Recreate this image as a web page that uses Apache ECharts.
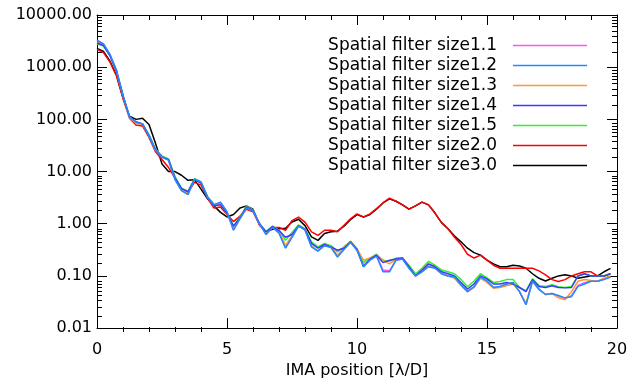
<!DOCTYPE html>
<html><head><meta charset="utf-8">
<script src="https://cdn.jsdelivr.net/npm/echarts@6/dist/echarts.min.js"></script>
<style>html,body{margin:0;padding:0;background:#fff}#c{width:640px;height:384px}</style>
</head><body><div id="c"></div>
<script>
// sample positions [lambda/D]
const xPos = [0,0.25,0.5,0.75, 1,1.25,1.5,1.75, 2,2.25,2.5,2.75, 3,3.25,3.5,3.75, 4,4.25,4.5,4.75,
  5,5.25,5.5,5.75, 6,6.25,6.5,6.75, 7,7.25,7.5,7.75, 8,8.25,8.5,8.75, 9,9.25,9.5,9.75,
  10,10.25,10.5,10.75, 11,11.25,11.5,11.75, 12,12.25,12.5,12.75, 13,13.25,13.5,13.75, 14,14.25,14.5,14.75,
  15,15.25,15.5,15.75, 16,16.25,16.5,16.75, 17,17.25,17.5,17.75, 18,18.25,18.5,18.75, 19,19.25,19.5,19.75];

const size11 = [3250,2780,1740,865, 288,111,87,81, 50,26,19,16.6, 7.1,4.35,3.7,7.15, 6.25,3.25,2.28,2.55,
  1.68,0.76,1.26,2.02, 1.76,1.0,0.63,0.86, 0.68,0.35,0.56,0.91, 0.77,0.365,0.3,0.385, 0.355,0.235,0.325,0.445,
  0.315,0.16,0.205,0.242, 0.13,0.125,0.2,0.212, 0.142,0.1,0.122,0.155, 0.142,0.11,0.1,0.094, 0.067,0.05,0.062,0.094,
  0.079,0.06,0.062,0.069, 0.074,0.05,0.028,0.08, 0.055,0.044,0.046,0.041, 0.037,0.042,0.066,0.074, 0.08,0.079,0.087,0.096];
const size12 = [3300,2800,1750,870, 290,112,88,82, 50,26,19,16.5, 7.0,4.3,3.6,7.2, 6.3,3.3,2.3,2.6,
  1.7,0.75,1.25,2.0, 1.75,1.0,0.62,0.85, 0.66,0.34,0.55,0.9, 0.76,0.36,0.3,0.38, 0.35,0.23,0.32,0.44,
  0.31,0.15,0.2,0.24, 0.12,0.12,0.2,0.21, 0.14,0.1,0.12,0.15, 0.14,0.11,0.1,0.095, 0.068,0.05,0.062,0.095,
  0.08,0.06,0.063,0.07, 0.075,0.05,0.028,0.08, 0.055,0.044,0.046,0.042, 0.038,0.04,0.063,0.07, 0.079,0.079,0.085,0.095];
const size13 = [3000,2650,1680,840, 280,108,85,80, 48,26,19,17, 7.4,4.5,3.9,7.1, 6.1,3.2,2.2,2.4,
  1.6,0.8,1.3,2.1, 1.8,1.0,0.66,0.9, 0.72,0.38,0.6,0.93, 0.8,0.38,0.3,0.4, 0.37,0.25,0.35,0.46,
  0.33,0.2,0.22,0.25, 0.2,0.17,0.21,0.22, 0.15,0.1,0.13,0.17, 0.15,0.11,0.1,0.09, 0.065,0.05,0.06,0.09,
  0.075,0.058,0.06,0.065, 0.07,0.05,0.03,0.078, 0.056,0.044,0.046,0.038, 0.035,0.05,0.079,0.085, 0.082,0.079,0.09,0.1];
const size14 = [2900,2600,1650,830, 280,112,90,82, 48,26,19,17, 7.6,4.7,4.1,7.0, 6.0,3.2,2.2,2.3,
  1.6,0.9,1.3,2.1, 1.8,1.0,0.7,0.88, 0.74,0.55,0.62,0.92, 0.78,0.42,0.34,0.4, 0.36,0.31,0.34,0.45,
  0.32,0.15,0.21,0.25, 0.18,0.2,0.21,0.22, 0.15,0.1,0.13,0.17, 0.15,0.12,0.11,0.1, 0.075,0.056,0.07,0.1,
  0.088,0.07,0.07,0.075, 0.07,0.06,0.05,0.085, 0.063,0.06,0.065,0.06, 0.059,0.06,0.1,0.11, 0.1,0.1,0.1,0.11];
const size15 = [2800,2550,1650,830, 280,110,88,82, 50,27,20,17.5, 8,4.8,4.2,7.3, 6.3,3.3,2.4,2.4,
  1.6,0.9,1.35,2.2, 1.85,1.0,0.7,0.9, 0.75,0.48,0.68,0.95, 0.8,0.45,0.36,0.42, 0.38,0.29,0.36,0.46,
  0.33,0.18,0.22,0.26, 0.2,0.19,0.22,0.22, 0.16,0.11,0.14,0.19, 0.16,0.13,0.12,0.11, 0.085,0.062,0.08,0.11,
  0.092,0.075,0.078,0.085, 0.085,0.06,0.052,0.088, 0.065,0.063,0.068,0.062, 0.06,0.063,0.1,0.11, 0.1,0.1,0.1,0.11];
const size20 = [2200,1900,1250,680, 250,105,78,75, 45,24,17,12, 7.5,4.5,4.0,6.2, 5.5,3.1,2.0,2.1,
  1.5,1.1,1.4,1.9, 1.7,0.95,0.68,0.85, 0.85,0.75,1.15,1.34, 1.07,0.7,0.6,0.75, 0.75,0.7,0.93,1.24,
  1.55,1.34,1.55,1.95, 2.5,3.1,2.7,2.3, 1.9,2.2,2.6,2.3, 1.6,1.05,0.8,0.55, 0.4,0.26,0.22,0.25,
  0.2,0.16,0.14,0.14, 0.14,0.14,0.14,0.14, 0.125,0.105,0.085,0.078, 0.085,0.1,0.11,0.12, 0.12,0.1,0.1,0.11];
const size30 = [2300,2000,1300,700, 260,115,100,105, 80,35,14,10, 10,8.5,6.8,7.0, 4.6,3.0,2.2,1.65,
  1.35,1.5,2.0,2.2, 1.9,0.95,0.7,0.78, 0.8,0.82,1.08,1.22, 0.92,0.56,0.48,0.65, 0.7,0.72,0.9,1.2,
  1.5,1.35,1.5,1.9, 2.5,3.0,2.7,2.3, 1.9,2.2,2.6,2.3, 1.6,1.05,0.8,0.58, 0.45,0.34,0.28,0.25,
  0.2,0.17,0.15,0.15, 0.16,0.155,0.14,0.11, 0.09,0.08,0.09,0.1, 0.105,0.1,0.09,0.095, 0.1,0.1,0.12,0.14];

const seriesNames = ['Spatial filter size1.1','Spatial filter size1.2','Spatial filter size1.3',
  'Spatial filter size1.4','Spatial filter size1.5','Spatial filter size2.0','Spatial filter size3.0'];
const seriesValues = [size11,size12,size13,size14,size15,size20,size30];
const seriesColors = ['#ff55ee','#1e8cff','#ff9933','#3a3aff','#33ee33','#ff0000','#000000'];
const seriesZ = [3,9,5,6,4,2,1];

const yMajorTicks = [0.01,0.1,1,10,100,1000,10000];
const xMinorTicks = [1,2,3,4,6,7,8,9,11,12,13,14,16,17,18,19];

const yMinorTicks = [];
for (let d = 0; d < yMajorTicks.length - 1; d++) {
  for (let k = 2; k <= 9; k++) yMinorTicks.push(+(yMajorTicks[d] * k).toPrecision(3));
}

const FONT = 'DejaVu Sans';
const black = '#000';

function yAxisDef(grid, pos, ticks, len, showLine, showLabel) {
  return {
    gridIndex: grid,
    type: 'log', logBase: 10, min: 0.01, max: 10000, position: pos,
    axisLine: {show: showLine, onZero: false, lineStyle: {color: black, width: 1}},
    axisTick: {show: true, inside: true, length: len, customValues: ticks, lineStyle: {color: black, width: 1}},
    axisLabel: {show: showLabel, customValues: ticks, margin: 5, color: black, fontFamily: FONT, fontSize: 16,
      formatter: v => Number(v).toFixed(2)},
    splitLine: {show: false}, minorTick: {show: false}, minorSplitLine: {show: false}
  };
}
function xAxisDef(grid, pos, showLabel, ticks, len, showLine) {
  return {
    gridIndex: grid,
    type: 'value', min: 0, max: 20, interval: 5, position: pos,
    name: showLabel ? 'IMA position [λ/D]' : '', nameLocation: 'middle', nameGap: 29,
    nameTextStyle: {color: black, fontFamily: FONT, fontSize: 16},
    axisLine: {show: showLine, onZero: false, lineStyle: {color: black, width: 1}},
    axisTick: {show: true, inside: true, length: len, customValues: ticks, lineStyle: {color: black, width: 1}},
    minorTick: {show: false},
    axisLabel: {show: showLabel, margin: 14, color: black, fontFamily: FONT, fontSize: 16},
    splitLine: {show: false}, minorSplitLine: {show: false}
  };
}

const gridBox = {left: 97, right: 23, top: 15, bottom: 52, containLabel: false};
const chart = echarts.init(document.getElementById('c'), null, {renderer: 'canvas'});
chart.setOption({
  animation: false,
  backgroundColor: '#fff',
  grid: [Object.assign({}, gridBox), Object.assign({}, gridBox)],
  xAxis: [
    xAxisDef(0, 'bottom', true, undefined, 10, true),
    xAxisDef(0, 'top', false, undefined, 10, true),
    xAxisDef(1, 'bottom', false, xMinorTicks, 5, false),
    xAxisDef(1, 'top', false, xMinorTicks, 5, false)
  ],
  yAxis: [
    yAxisDef(0, 'left', yMajorTicks, 10, true, true),
    yAxisDef(0, 'right', yMajorTicks, 10, true, false),
    yAxisDef(1, 'left', yMinorTicks, 5, false, false),
    yAxisDef(1, 'right', yMinorTicks, 5, false, false)
  ],
  legend: {
    orient: 'vertical', right: 48, top: 32, align: 'right', selectedMode: false,
    itemWidth: 74, itemHeight: 14, itemGap: 3,
    icon: 'path://M0,0L74,0L74,1.6L0,1.6Z',
    textStyle: {fontFamily: FONT, fontSize: 17, color: black, padding: [0, 11, 0, 0]},
    data: seriesNames
  },
  series: seriesNames.map((n, i) => ({
    name: n, type: 'line', xAxisIndex: 0, yAxisIndex: 0, z: seriesZ[i],
    symbol: 'none', showSymbol: false, smooth: false,
    color: seriesColors[i],
    lineStyle: {color: seriesColors[i], width: 1.5},
    data: xPos.map((x, j) => [x, seriesValues[i][j]])
  }))
});
</script></body></html>
